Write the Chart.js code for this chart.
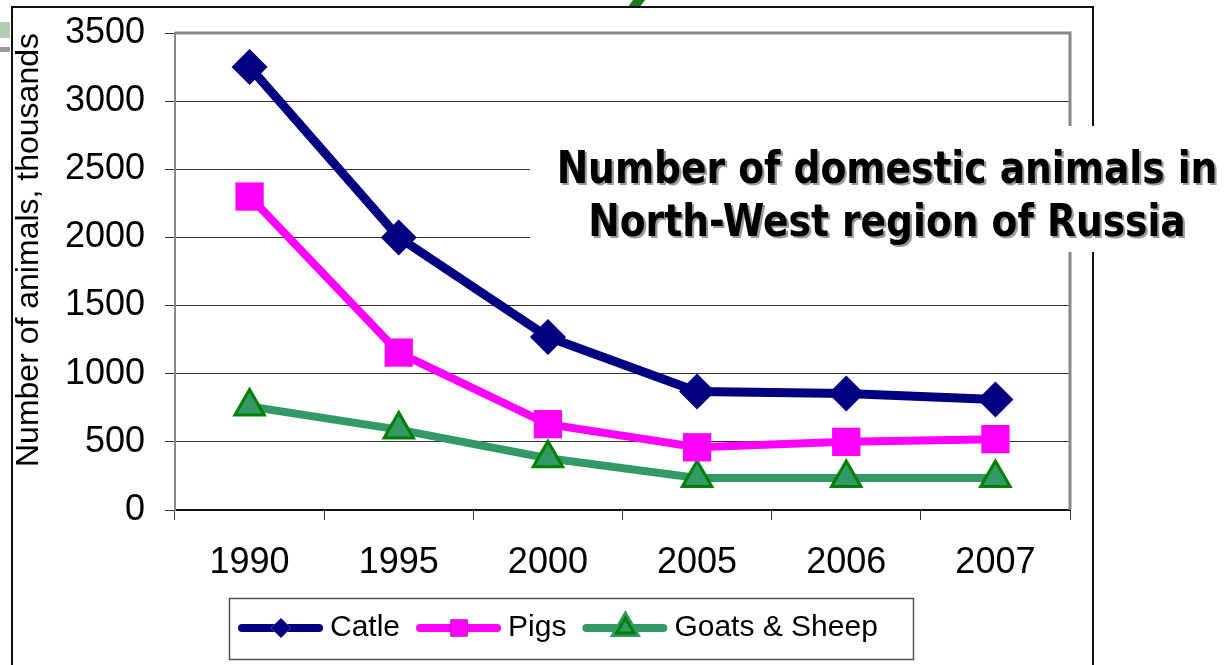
<!DOCTYPE html>
<html>
<head>
<meta charset="utf-8">
<script src="https://cdn.jsdelivr.net/npm/chart.js@4/dist/chart.umd.min.js"></script>
<style>
  body { margin: 0; background: #fff; }
  #wrap { width: 1227px; height: 665px; }
</style>
</head>
<body>
<div id="wrap"><canvas id="myChart" width="1227" height="665"></canvas></div>
<script>
// dati (migliaia di capi)
const years = ['1990', '1995', '2000', '2005', '2006', '2007'];
const catle = [3250, 2000, 1270, 870, 855, 810];
const pigs = [2300, 1155, 630, 460, 500, 520];
const goats = [760, 590, 380, 235, 235, 235];
const seriesNames = ['Catle', 'Pigs', 'Goats & Sheep'];
const titleLines = ['Number of domestic animals in', 'North-West region of Russia'];
const yTitle = 'Number of animals, thousands';

// sfondo bianco + decorazioni della slide
const background = {
  id: 'background',
  beforeDraw(chart) {
    const ctx = chart.ctx;
    ctx.save();
    ctx.fillStyle = '#fff';
    ctx.fillRect(0, 0, chart.width, chart.height);
    ctx.fillStyle = '#b3cdb3';
    ctx.fillRect(0, 22, 10, 16);
    ctx.fillStyle = '#999';
    ctx.fillRect(0, 47, 10, 5);
    ctx.fillStyle = '#1c7a1c';
    ctx.beginPath();
    ctx.moveTo(628, 7); ctx.lineTo(640, 7); ctx.lineTo(645, 0); ctx.lineTo(633, 0);
    ctx.fill();
    ctx.restore();
  }
};

// bordo grigio dell'area del grafico
const plotBorder = {
  id: 'plotBorder',
  beforeDatasetsDraw(chart) {
    const {ctx, chartArea: a} = chart;
    ctx.save();
    ctx.strokeStyle = '#888';
    ctx.lineWidth = 3;
    ctx.beginPath();
    ctx.moveTo(a.left, a.top); ctx.lineTo(a.right, a.top); ctx.lineTo(a.right, a.bottom);
    ctx.stroke();
    ctx.restore();
  }
};

// disegna il simbolo della legenda (linea + marker)
function legendSample(ctx, ds, x, y) {
  ctx.save();
  ctx.strokeStyle = ds.borderColor;
  ctx.lineWidth = 8;
  ctx.lineCap = 'round';
  ctx.beginPath();
  ctx.moveTo(x + 4, y); ctx.lineTo(x + 81, y);
  ctx.stroke();
  const r = ds.pointStyle === 'rect' ? 12 : 10;
  Chart.helpers.drawPoint(ctx, {
    pointStyle: ds.pointStyle, radius: r, rotation: 0, borderWidth: ds.pointBorderWidth
  }, x + 43, y);
  ctx.fillStyle = ds.pointBackgroundColor;
  ctx.strokeStyle = ds.pointBorderColor;
  ctx.lineWidth = ds.pointBorderWidth;
  ctx.fill();
  if (ds.pointBorderWidth) ctx.stroke();
  ctx.restore();
}

// cornice, titolo sovrapposto e legenda con bordo
const overlay = {
  id: 'overlay',
  afterDraw(chart) {
    const ctx = chart.ctx;
    ctx.save();
    // cornice esterna
    ctx.strokeStyle = '#111';
    ctx.lineWidth = 2;
    ctx.strokeRect(12, 7, 1081, 700);

    // riquadro bianco del titolo
    ctx.fillStyle = '#fff';
    ctx.fillRect(530, 126, 697, 126);
    ctx.font = 'bold 44px "DejaVu Sans"';
    ctx.textAlign = 'center';
    ctx.textBaseline = 'alphabetic';
    const base = [183, 236];
    titleLines.forEach((t, i) => {
      ctx.save();
      ctx.translate(887, base[i]);
      ctx.scale(0.855, 1);
      ctx.fillStyle = '#9a9a9a';
      ctx.fillText(t, 2.5, 2);
      ctx.fillStyle = '#000';
      ctx.fillText(t, 0, 0);
      ctx.restore();
    });

    // legenda
    ctx.fillStyle = '#fff';
    ctx.fillRect(229, 598, 684, 61);
    ctx.strokeStyle = '#555';
    ctx.lineWidth = 1.5;
    ctx.strokeRect(229.5, 598.5, 684, 61);
    ctx.beginPath();
    ctx.rect(229, 598, 655, 61);
    ctx.clip();
    ctx.font = '30px "Liberation Sans"';
    ctx.textAlign = 'left';
    ctx.textBaseline = 'middle';
    let x = 238;
    const y = 628;
    chart.data.datasets.forEach(ds => {
      legendSample(ctx, ds, x, y);
      ctx.fillStyle = '#000';
      ctx.fillText(ds.label, x + 92, y);
      x += 92 + ctx.measureText(ds.label).width + 16;
    });
    ctx.restore();
  }
};

const data = {
  labels: years,
  datasets: [{
    label: seriesNames[0],
    data: catle,
    borderColor: '#000080',
    backgroundColor: '#000080',
    borderWidth: 9,
    pointStyle: 'rectRot',
    pointRadius: 18,
    pointBackgroundColor: '#000080',
    pointBorderColor: '#000080',
    pointBorderWidth: 0
  }, {
    label: seriesNames[1],
    data: pigs,
    borderColor: '#ff00ff',
    backgroundColor: '#ff00ff',
    borderWidth: 8,
    pointStyle: 'rect',
    pointRadius: 20,
    pointBackgroundColor: '#ff00ff',
    pointBorderColor: '#ff00ff',
    pointBorderWidth: 0
  }, {
    label: seriesNames[2],
    data: goats,
    borderColor: '#339966',
    backgroundColor: '#339966',
    borderWidth: 8,
    pointStyle: 'triangle',
    pointRadius: 17,
    pointBackgroundColor: '#339966',
    pointBorderColor: '#008000',
    pointBorderWidth: 3
  }]
};

const options = {
  responsive: false,
  animation: false,
  devicePixelRatio: 1,
  layout: { padding: { top: 33, right: 157, left: 0, bottom: 0 } },
  plugins: { legend: { display: false }, title: { display: false }, tooltip: { enabled: false } },
  elements: { line: { tension: 0 } },
  scales: {
    x: {
      offset: true,
      grid: { offset: true, drawOnChartArea: false, drawTicks: true, tickLength: 10, color: '#333', tickColor: '#333' },
      border: { display: true, color: '#111', width: 2 },
      ticks: { color: '#000', font: { family: 'Liberation Sans', size: 36 }, padding: 21, maxRotation: 0 },
      afterFit(s) { s.height = 155; s.paddingLeft = 0; s.paddingRight = 0; }
    },
    y: {
      min: 0,
      max: 3500,
      ticks: {
        stepSize: 500,
        color: '#000',
        font: { family: 'Liberation Sans', size: 36 },
        padding: 20,
        callback: v => String(v)
      },
      grid: { color: '#333', lineWidth: 1, tickLength: 10, tickColor: '#333' },
      border: { display: true, color: '#888', width: 2 },
      title: {
        display: true,
        text: yTitle,
        align: 'end',
        color: '#000',
        font: { family: 'Liberation Sans', size: 32 },
        padding: { top: 10, bottom: 0 }
      },
      afterFit(s) { s.width = 175; s.paddingTop = 0; s.paddingBottom = 0; }
    }
  }
};

let ctx = document.getElementById('myChart').getContext('2d');
let myChart = new Chart(ctx, {
  type: 'line',
  data: data,
  options: options,
  plugins: [background, plotBorder, overlay]
});
</script>
</body>
</html>
